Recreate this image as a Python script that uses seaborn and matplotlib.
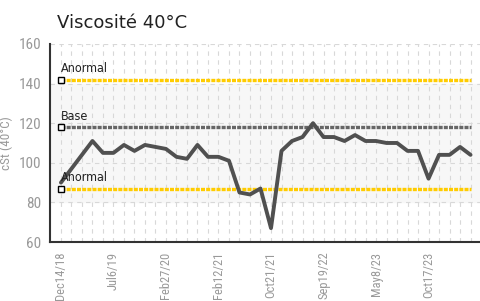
import numpy as np
import pandas as pd
import matplotlib
matplotlib.use('Agg')
import matplotlib.pyplot as plt
import seaborn as sns

# viscosity readings (cSt at 40°C), one per sample
visc = [90, 97, 104, 111, 105, 105, 109, 106, 109, 108,
        107, 103, 102, 109, 103, 103, 101, 85, 84, 87,
        67, 106, 111, 113, 120, 113, 113, 111, 114, 111,
        111, 110, 110, 106, 106, 92, 104, 104, 108, 104]
tick_idx = [0, 5, 10, 15, 20, 25, 30, 35]
tick_labels = ['Dec14/18', 'Jul6/19', 'Feb27/20', 'Feb12/21',
               'Oct21/21', 'Sep19/22', 'May8/23', 'Oct17/23']
limit_high = 142
limit_low = 87
base_value = 118

df = pd.DataFrame({'idx': np.arange(len(visc)), 'visc': visc})

sns.set_style('white')
narrow = ['Roboto Condensed', 'Archivo Narrow', 'DejaVu Sans']
plt.rcParams['font.family'] = narrow

fig = plt.figure(figsize=(4.8, 3.01), dpi=100)
ax = fig.add_axes([0.104, 0.196, 0.896, 0.658])

ax.axhspan(80, 140, color='#f7f7f7', zorder=0)

last = len(visc) - 1
dots = (0, (1.2, 0.35))
ax.plot([0, last], [limit_high, limit_high], color='#ffcc00', lw=2.4, ls=dots, zorder=2)
ax.plot([0, last], [limit_low, limit_low], color='#ffcc00', lw=2.4, ls=dots, zorder=2)
ax.plot([0, last], [base_value, base_value], color='#666666', lw=2.4, ls=dots, zorder=2)

sns.lineplot(data=df, x='idx', y='visc', color='#505050', lw=2.8, ax=ax, zorder=3)

for val, lab in [(limit_high, 'Anormal'), (base_value, 'Base'), (limit_low, 'Anormal')]:
    ax.plot(0, val, marker='s', ms=4.5, mfc='white', mec='black', mew=1, zorder=5,
            clip_on=False)
    ax.text(0, val + 2.3, lab, fontsize=9, color='#222222', ha='left', va='bottom',
            zorder=6, family=['DejaVu Sans'], fontstretch='condensed')

ax.set_xlim(-1.05, 39.9)
ax.set_ylim(60, 160)
ax.set_yticks([60, 80, 100, 120, 140, 160])
ax.set_xticks(tick_idx)
ax.set_xticklabels(tick_labels, rotation=90)
ax.set_xticks(np.arange(len(visc)), minor=True)

ax.grid(True, which='both', axis='x', color='#d8d8d8', ls=(0, (4, 4)), lw=0.8)
ax.grid(True, which='major', axis='y', color='#d8d8d8', ls=(0, (4, 4)), lw=0.8)
ax.set_axisbelow(True)

ax.tick_params(axis='both', which='major', direction='out', length=4, width=1.2,
               color='#222222', labelcolor='#999999', labelsize=11, pad=2)
ax.tick_params(axis='x', which='minor', length=0)
ax.tick_params(axis='x', labelsize=9, pad=3)

for s in ['top', 'right']:
    ax.spines[s].set_visible(False)
for s in ['left', 'bottom']:
    ax.spines[s].set_color('#333333')
    ax.spines[s].set_linewidth(1.5)

ax.set_xlabel('')
ax.set_ylabel('cSt (40°C)', color='#999999', fontsize=9.5, labelpad=4)

fig.text(0.118, 0.925, 'Viscosité 40°C', fontsize=13, color='#222222',
         family=['DejaVu Sans'], ha='left', va='center')

fig.savefig('out.png', dpi=100)
